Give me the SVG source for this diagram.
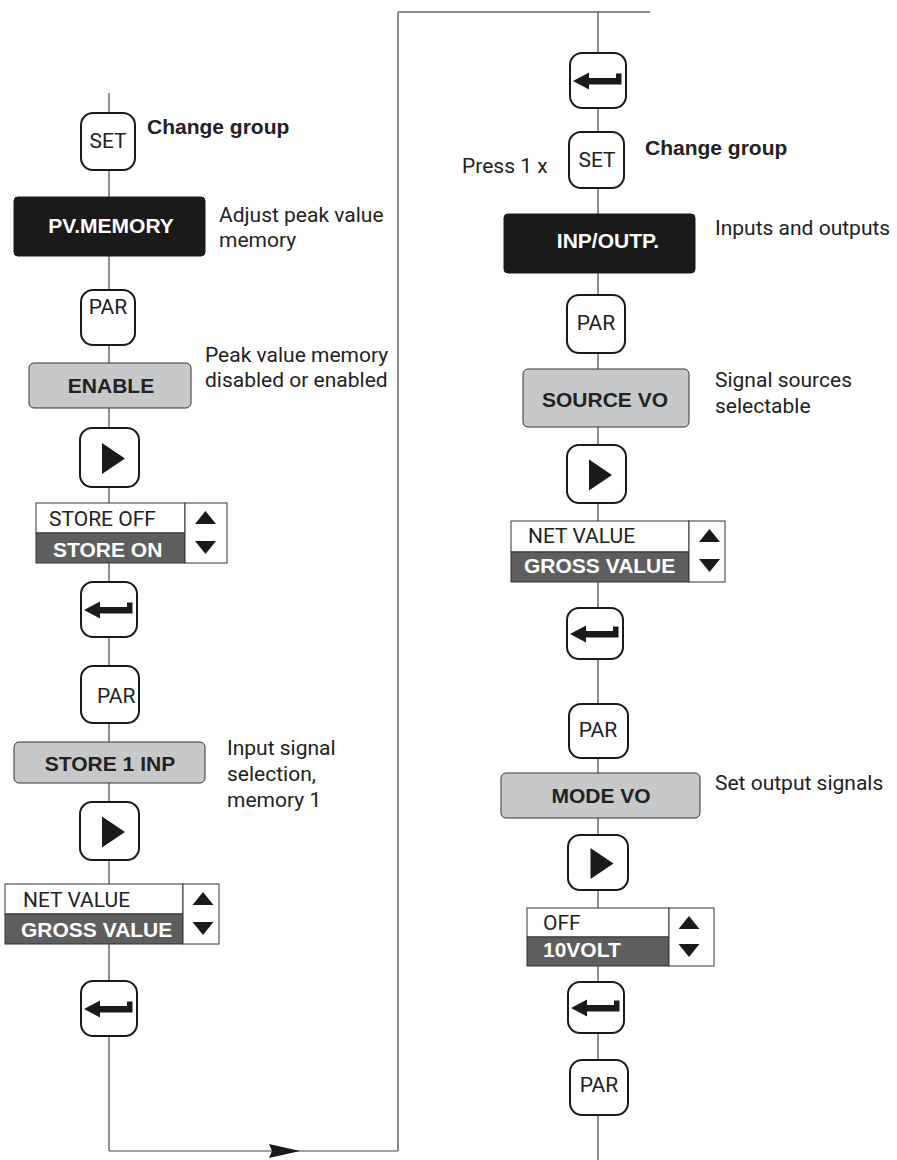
<svg xmlns="http://www.w3.org/2000/svg" width="897" height="1160" viewBox="0 0 897 1160">
<style>
.btn{fill:#fff;stroke:#1a1a1a;stroke-width:2}
.blk{fill:#1a1a1a;stroke:#1a1a1a;stroke-width:1}
.gry{fill:#c7c8ca;stroke:#333;stroke-width:1}
.selw{fill:#fff;stroke:#333;stroke-width:1}
.seld{fill:#5e5e5e;stroke:#333;stroke-width:1}
.ln{stroke:#444;stroke-width:1.2;fill:none}
.lg{stroke:#8c8c8c;stroke-width:2;fill:none}
.t{font-family:Roboto,"Liberation Sans",sans-serif;font-size:21px;fill:#222}
.b{font-family:"Liberation Sans",Arial,sans-serif;font-size:21px;font-weight:bold;fill:#222}
.bw{font-family:"Liberation Sans",Arial,sans-serif;font-size:21px;font-weight:bold;fill:#fff}
.c{text-anchor:middle}
.ic{fill:#1a1a1a}
</style>
<defs>
<path id="enterIcon" d="M-25,0.5 L-9,-8 L-9,-2.5 L18,-2.5 L18,-7 L23.5,-7 L23.5,4 L-9,4 L-9,9 Z"/>
<polygon id="playIcon" points="-7.5,-14.5 -7.5,16.5 15.5,1"/>
<polygon id="upTri" points="0,-7 10.5,6 -10.5,6"/>
<polygon id="dnTri" points="0,7 10.5,-6 -10.5,-6"/>
<marker id="arr" markerWidth="32" markerHeight="14" refX="31" refY="7" orient="auto" markerUnits="userSpaceOnUse">
<polygon points="0,0 31,7 0,14 3,7" fill="#1a1a1a"/>
</marker>
</defs>

<g id="connectors">
<line class="ln" x1="109" y1="93" x2="109" y2="1151"/>
<line class="ln" x1="109" y1="1151" x2="300" y2="1151" marker-end="url(#arr)"/>
<line class="ln" x1="300" y1="1151" x2="398" y2="1151"/>
<line class="lg" x1="398" y1="1151" x2="398" y2="12"/>
<line class="lg" x1="398" y1="12" x2="650" y2="12"/>
<line class="ln" x1="598" y1="12" x2="598" y2="1160"/>
</g>

<!-- Left column -->
<g id="set1"><rect class="btn" x="81" y="113" width="54" height="57" rx="12"/><text class="t c" x="108" y="148">SET</text></g>
<g id="lbl-change1"><text class="b" x="147" y="134">Change group</text></g>
<g id="pvmemory"><rect class="blk" x="14" y="197" width="191" height="59" rx="4"/><text class="bw c" x="111" y="233">PV.MEMORY</text></g>
<g id="lbl-adjust"><text class="t" x="219" y="222">Adjust peak value</text><text class="t" x="219" y="247">memory</text></g>
<g id="par1"><rect class="btn" x="81" y="290" width="54" height="55" rx="12"/><text class="t c" x="108" y="314">PAR</text></g>
<g id="enable"><rect class="gry" x="29" y="363" width="162" height="45" rx="5"/><text class="b c" x="111" y="393">ENABLE</text></g>
<g id="lbl-peak"><text class="t" x="205" y="362">Peak value memory</text><text class="t" x="205" y="387">disabled or enabled</text></g>
<g id="play1"><rect class="btn" x="80" y="428" width="59" height="59" rx="12"/><use href="#playIcon" class="ic" x="109.5" y="457.5"/></g>
<g id="sel1">
<rect class="selw" x="36" y="503" width="149" height="30"/>
<rect class="seld" x="36" y="533" width="149" height="30"/>
<rect class="selw" x="185" y="503" width="42" height="60"/>
<text class="t" x="49" y="526">STORE OFF</text>
<text class="bw" x="53" y="557">STORE ON</text>
<use href="#upTri" class="ic" x="205.5" y="518"/>
<use href="#dnTri" class="ic" x="205.5" y="547"/>
</g>
<g id="enter1"><rect class="btn" x="81" y="582" width="56" height="55" rx="12"/><use href="#enterIcon" class="ic" x="109" y="609.5"/></g>
<g id="par2"><rect class="btn" x="81" y="666" width="58" height="57" rx="12"/><text class="t" x="97" y="703">PAR</text></g>
<g id="store1inp"><rect class="gry" x="14" y="742" width="191" height="41" rx="5"/><text class="b c" x="110" y="771">STORE 1 INP</text></g>
<g id="lbl-input"><text class="t" x="227" y="755">Input signal</text><text class="t" x="227" y="781">selection,</text><text class="t" x="227" y="807">memory 1</text></g>
<g id="play2"><rect class="btn" x="80" y="802" width="59" height="58" rx="12"/><use href="#playIcon" class="ic" x="109.5" y="831"/></g>
<g id="sel2">
<rect class="selw" x="5" y="884" width="178" height="30"/>
<rect class="seld" x="5" y="914" width="178" height="30"/>
<rect class="selw" x="183" y="884" width="36" height="60"/>
<text class="t" x="23" y="907">NET VALUE</text>
<text class="bw" x="21" y="937">GROSS VALUE</text>
<use href="#upTri" class="ic" x="203" y="899"/>
<use href="#dnTri" class="ic" x="203" y="928"/>
</g>
<g id="enter2"><rect class="btn" x="81" y="981" width="56" height="55" rx="12"/><use href="#enterIcon" class="ic" x="109" y="1008.5"/></g>

<!-- Right column -->
<g id="enter3"><rect class="btn" x="570" y="53" width="56" height="55" rx="12"/><use href="#enterIcon" class="ic" x="598" y="80.5"/></g>
<g id="set2"><rect class="btn" x="569" y="132" width="55" height="56" rx="12"/><text class="t c" x="597" y="167">SET</text></g>
<g id="lbl-press"><text class="t" x="462" y="173">Press 1 x</text></g>
<g id="lbl-change2"><text class="b" x="645" y="155">Change group</text></g>
<g id="inpoutp"><rect class="blk" x="504" y="214" width="191" height="59" rx="4"/><text class="bw c" x="608" y="248">INP/OUTP.</text></g>
<g id="lbl-inputs"><text class="t" x="715" y="235">Inputs and outputs</text></g>
<g id="par3"><rect class="btn" x="567" y="295" width="58" height="58" rx="12"/><text class="t c" x="596" y="330">PAR</text></g>
<g id="sourcevo"><rect class="gry" x="523" y="369" width="166" height="58" rx="5"/><text class="b c" x="605" y="407">SOURCE VO</text></g>
<g id="lbl-signal"><text class="t" x="715" y="387">Signal sources</text><text class="t" x="715" y="413">selectable</text></g>
<g id="play3"><rect class="btn" x="567" y="445" width="59" height="58" rx="12"/><use href="#playIcon" class="ic" x="596.5" y="474"/></g>
<g id="sel3">
<rect class="selw" x="511" y="521" width="178" height="31"/>
<rect class="seld" x="511" y="552" width="178" height="30"/>
<rect class="selw" x="689" y="521" width="36" height="61"/>
<text class="t" x="528" y="543">NET VALUE</text>
<text class="bw" x="524" y="573">GROSS VALUE</text>
<use href="#upTri" class="ic" x="709.5" y="536"/>
<use href="#dnTri" class="ic" x="709.5" y="565"/>
</g>
<g id="enter4"><rect class="btn" x="567" y="608" width="56" height="51" rx="12"/><use href="#enterIcon" class="ic" x="595" y="633.5"/></g>
<g id="par4"><rect class="btn" x="569" y="704" width="59" height="54" rx="12"/><text class="t c" x="598" y="737">PAR</text></g>
<g id="modevo"><rect class="gry" x="501" y="773" width="199" height="45" rx="5"/><text class="b c" x="601" y="803">MODE VO</text></g>
<g id="lbl-set"><text class="t" x="715" y="790">Set output signals</text></g>
<g id="play4"><rect class="btn" x="568" y="835" width="60" height="55" rx="12"/><use href="#playIcon" class="ic" x="598" y="862.5"/></g>
<g id="sel4">
<rect class="selw" x="527" y="908" width="142" height="29"/>
<rect class="seld" x="527" y="937" width="142" height="29"/>
<rect class="selw" x="669" y="908" width="45" height="58"/>
<text class="t" x="543" y="930">OFF</text>
<text class="bw" x="543" y="957">10VOLT</text>
<use href="#upTri" class="ic" x="689" y="923"/>
<use href="#dnTri" class="ic" x="689" y="950"/>
</g>
<g id="enter5"><rect class="btn" x="568" y="982" width="56" height="51" rx="12"/><use href="#enterIcon" class="ic" x="596" y="1007.5"/></g>
<g id="par5"><rect class="btn" x="570" y="1060" width="58" height="55" rx="12"/><text class="t c" x="599" y="1092">PAR</text></g>
</svg>
